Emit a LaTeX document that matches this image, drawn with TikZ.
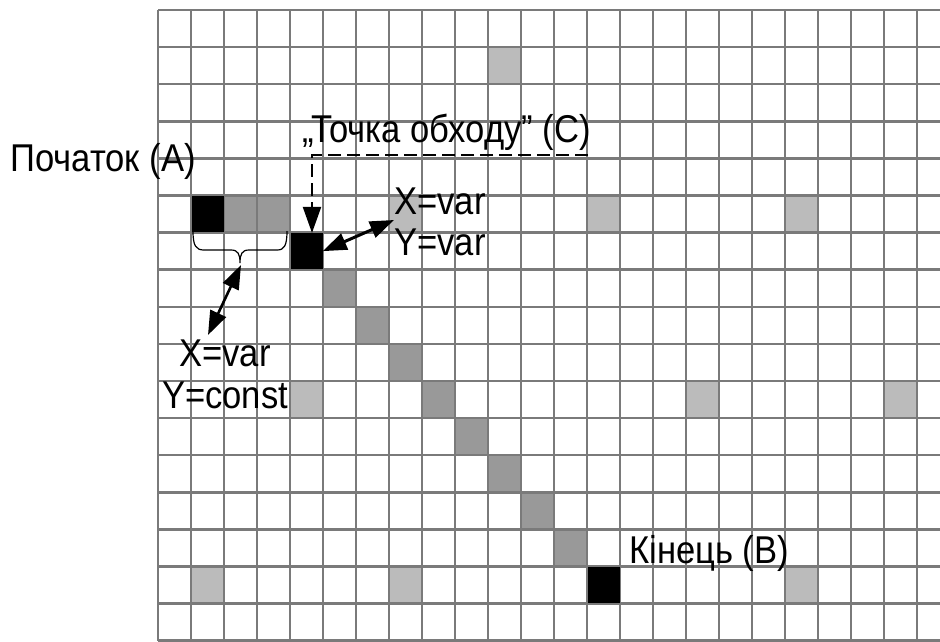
\documentclass[tikz,border=0pt]{standalone}
\usepackage{fontspec}
\setmainfont{Liberation Sans}
\usepackage{graphicx}
\usetikzlibrary{arrows.meta}
\definecolor{gridc}{RGB}{122,122,122}
\definecolor{lightc}{RGB}{187,187,187}
\definecolor{darkc}{RGB}{153,153,153}
\newcommand\stretchtxt[1]{\scalebox{1}[1.12]{#1}}
\tikzset{
  gridline/.style={draw=gridc, line width=2.5pt},
  lightcell/.style={fill=lightc},
  darkcell/.style={fill=darkc},
  blackcell/.style={fill=black, draw=none, minimum width=32pt, minimum height=36pt, inner sep=0pt},
  lbl/.style={inner sep=0pt, anchor=base west, font=\fontsize{34.6}{40}\selectfont},
  lblc/.style={inner sep=0pt, anchor=base, font=\fontsize{34.6}{40}\selectfont},
  dblarrow/.style={line width=3pt, {Triangle[length=24pt,width=17pt]}-{Triangle[length=24pt,width=17pt]}},
  dasharrow/.style={line width=2pt, dash pattern=on 13pt off 6pt, -{Triangle[length=26pt,width=18pt]}},
  bracestyle/.style={line width=1.2pt},
}
\begin{document}
\begin{tikzpicture}[x=1pt,y=-1pt]
\useasboundingbox (0,0) rectangle (940,641);
\fill[white] (0,0) rectangle (940,641);
\begin{scope}[shift={(158,10)}, x=33pt, y=-37.1pt]
  \foreach \c/\r in {10/1,7/5,13/5,19/5,4/10,16/10,22/10,1/15,7/15,19/15}
    \fill[lightcell] (\c,\r) rectangle +(1,1);
  \foreach \c/\r in {2/5,3/5,5/7,6/8,7/9,8/10,9/11,10/12,11/13,12/14}
    \fill[darkcell] (\c,\r) rectangle +(1,1);
  \foreach \i in {0,...,23} \draw[gridline] (\i,0) -- (\i,17);
  \foreach \j in {0,...,17} \draw[gridline] (0,\j) -- (23.7,\j);
  \node[blackcell] (A) at (1.5,5.5) {};
  \node[blackcell] (C) at (4.5,6.5) {};
  \node[blackcell] (B) at (13.5,15.5) {};
\end{scope}

\node[lbl] (start) at (10,171) {\stretchtxt{Початок (A)}};
\node[lbl] (waylbl) at (302,142) {\stretchtxt{„Точка обходу” (C)}};
\node[lbl] (xv) at (394,214) {\stretchtxt{X=var}};
\node[lbl] (yv) at (394,255) {\stretchtxt{Y=var}};
\node[lblc] (xc) at (225,366) {\stretchtxt{X=var}};
\node[lblc] (yc) at (225,408) {\stretchtxt{Y=const}};
\node[lbl] (end) at (629,563) {\stretchtxt{Кінець (B)}};

% dashed pointer to the bypass point
\coordinate (ulR) at (588,155);
\coordinate (ulL) at (312,155);
\draw[dasharrow] (ulR) -- (ulL) -- (ulL |- C.north);

% arrow between C and its label
\coordinate (xyarr) at (394,220);
\draw[dblarrow] (C.east) -- (xyarr);

% brace under the start row
\draw[bracestyle] (193,231) .. controls (193,246) and (196,250) .. (204,250)
  -- (231,250) .. controls (238,250) and (240,254) .. (240,263)
  .. controls (240,254) and (242,250) .. (249,250)
  -- (277,250) .. controls (284,250) and (287,246) .. (287,231);
\coordinate (braceTip) at (241,265);
\coordinate (xcTop) at (208,335);
\draw[dblarrow, line width=2.6pt] (braceTip) -- (xcTop);
\end{tikzpicture}
\end{document}
